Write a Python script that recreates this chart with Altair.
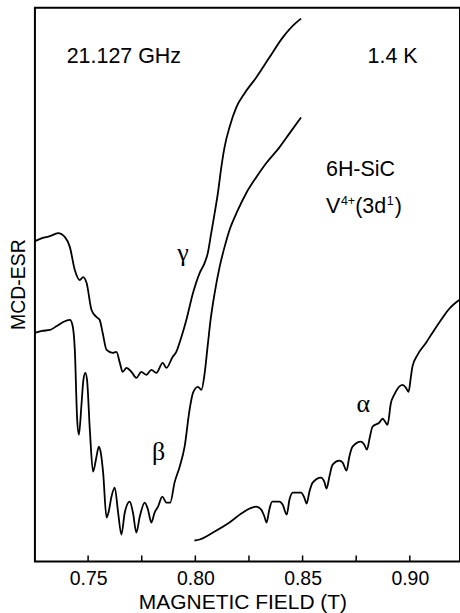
import altair as alt
import pandas as pd

# ---- data (field in T, signal in arbitrary units) ----
gamma_field = [0.7252, 0.7285, 0.7322, 0.7360, 0.7392, 0.7415, 0.7438, 0.7461, 0.7477, 0.7493,
               0.7516, 0.7539, 0.7554, 0.7568, 0.7586, 0.7615, 0.7632, 0.7648, 0.7661, 0.7679,
               0.7702, 0.7725, 0.7748, 0.7772, 0.7795, 0.7818, 0.7848, 0.7865, 0.7894, 0.7911,
               0.7935, 0.7958, 0.7989, 0.8020, 0.8043, 0.8058, 0.8074, 0.8090, 0.8105, 0.8121,
               0.8136, 0.8159, 0.8191, 0.8229, 0.8284, 0.8345, 0.8407, 0.8470, 0.8493]
gamma_signal = [3.21, 3.24, 3.26, 3.29, 3.25, 3.15, 2.92, 2.82, 2.85, 2.79,
                2.52, 2.45, 2.42, 2.29, 2.12, 2.09, 2.10, 1.99, 1.90, 1.94,
                1.90, 1.84, 1.90, 1.87, 1.92, 1.89, 1.99, 1.94, 2.05, 2.10,
                2.25, 2.42, 2.69, 2.89, 2.99, 3.09, 3.29, 3.49, 3.69, 3.95,
                4.15, 4.35, 4.55, 4.69, 4.85, 5.05, 5.25, 5.40, 5.44]

beta_field = [0.7252, 0.7285, 0.7322, 0.7354, 0.7384, 0.7415, 0.7427, 0.7438, 0.7449, 0.7457,
              0.7469, 0.7478, 0.7487, 0.7495, 0.7508, 0.7523, 0.7539, 0.7550, 0.7559, 0.7570,
              0.7586, 0.7596, 0.7609, 0.7624, 0.7640, 0.7655, 0.7671, 0.7694, 0.7709, 0.7725,
              0.7741, 0.7764, 0.7779, 0.7795, 0.7810, 0.7826, 0.7846, 0.7865, 0.7883, 0.7903,
              0.7927, 0.7950, 0.7973, 0.7989, 0.8012, 0.8028, 0.8043, 0.8058, 0.8071, 0.8090,
              0.8113, 0.8136, 0.8159, 0.8198, 0.8237, 0.8284, 0.8330, 0.8392, 0.8439, 0.8493]
beta_signal = [2.29, 2.31, 2.32, 2.36, 2.40, 2.42, 2.37, 2.12, 1.42, 1.27,
               1.57, 1.82, 1.89, 1.82, 1.32, 0.90, 1.05, 1.15, 1.09, 0.89,
               0.44, 0.50, 0.65, 0.74, 0.49, 0.27, 0.49, 0.60, 0.49, 0.29,
               0.45, 0.59, 0.52, 0.39, 0.49, 0.55, 0.65, 0.59, 0.59, 0.79,
               0.95, 1.15, 1.52, 1.69, 1.75, 1.72, 1.88, 2.17, 2.42, 2.69,
               2.95, 3.15, 3.32, 3.52, 3.69, 3.85, 3.99, 4.15, 4.29, 4.45]

alpha_field = [0.7996, 0.8020, 0.8082, 0.8159, 0.8214, 0.8244, 0.8284, 0.8307, 0.8322, 0.8332,
               0.8345, 0.8358, 0.8392, 0.8407, 0.8426, 0.8439, 0.8454, 0.8493, 0.8508, 0.8519,
               0.8532, 0.8547, 0.8586, 0.8601, 0.8612, 0.8625, 0.8640, 0.8671, 0.8687, 0.8705,
               0.8718, 0.8733, 0.8772, 0.8788, 0.8800, 0.8814, 0.8826, 0.8857, 0.8873, 0.8885,
               0.8896, 0.8912, 0.8927, 0.8966, 0.8982, 0.8994, 0.9005, 0.9012, 0.9036, 0.9075,
               0.9105, 0.9152, 0.9183, 0.9230]
alpha_signal = [0.21, 0.22, 0.29, 0.39, 0.48, 0.52, 0.55, 0.52, 0.45, 0.39,
                0.52, 0.60, 0.60, 0.57, 0.47, 0.62, 0.69, 0.69, 0.64, 0.58,
                0.70, 0.79, 0.84, 0.80, 0.73, 0.85, 0.97, 1.01, 0.99, 0.91,
                1.05, 1.15, 1.20, 1.17, 1.12, 1.25, 1.35, 1.39, 1.43, 1.40,
                1.37, 1.59, 1.67, 1.77, 1.74, 1.70, 1.85, 1.95, 2.07, 2.19,
                2.29, 2.44, 2.53, 2.62]

tick_values = [0.75, 0.775, 0.80, 0.825, 0.85, 0.875, 0.90]
label_values = [0.75, 0.80, 0.85, 0.90]

# ---- build table ----
rows = []
for name, fx, sy in [("gamma", gamma_field, gamma_signal),
                     ("beta", beta_field, beta_signal),
                     ("alpha", alpha_field, alpha_signal)]:
    for i, (a, b) in enumerate(zip(fx, sy)):
        rows.append({"curve": name, "idx": i, "field": a, "signal": b})
df = pd.DataFrame(rows)

SANS = "Liberation Sans"
SERIF = "Liberation Serif"
xscale = alt.Scale(domain=[0.7252, 0.9234], nice=False, zero=False)
yscale = alt.Scale(domain=[0, 5.55], nice=False, zero=False)

xaxis = alt.Axis(values=label_values, format=".2f", tickSize=0, domain=False,
                 grid=False, labelFont=SANS, labelFontSize=19.5, labelColor="black",
                 labelPadding=8, title="MAGNETIC FIELD (T)", titleFont=SANS,
                 titleFontSize=21, titleFontWeight="normal", titleColor="black",
                 titleY=47.5, titleBaseline="alphabetic", titleX=208,
                 titleAlign="center")
yaxis = alt.Axis(labels=False, ticks=False, domain=False, grid=False,
                 title="MCD-ESR", titleFont=SANS, titleFontSize=19.5,
                 titleFontWeight="normal", titleColor="black", titleX=-10,
                 titleY=277, titleBaseline="alphabetic", titleAlign="center",
                 titleAngle=270)


def X():
    return alt.X("field:Q", scale=xscale, axis=xaxis, title="MAGNETIC FIELD (T)")


def Y():
    return alt.Y("signal:Q", scale=yscale, axis=yaxis, title="MCD-ESR")


lines = alt.Chart(df).mark_line(color="black", strokeWidth=1.8, clip=True,
                                interpolate="monotone").encode(
    x=X(), y=Y(), detail="curve:N", order="idx:Q")

ticks = alt.Chart(pd.DataFrame({"field": tick_values})).mark_rule(
    color="black", strokeWidth=1.5).encode(
    x=X(), y=alt.value(555), y2=alt.value(549))


def label(text, fx, sy, font=SANS, size=21.5, align="left", baseline="alphabetic",
          dx=0, dy=0):
    d = pd.DataFrame({"field": [fx], "signal": [sy], "t": [text]})
    return alt.Chart(d).mark_text(font=font, fontSize=size, align=align,
                                  baseline=baseline, color="black", dx=dx, dy=dy).encode(
        x=X(), y=Y(), text="t:N")


texts = [
    label("21.127 GHz", 0.7400, 5.00),
    label("1.4 K", 0.8803, 5.00),
    label("6H-SiC", 0.8609, 3.86),
    # V^{4+}(3d^1)
    label("V", 0.8609, 3.49),
    label("4+", 0.8609, 3.49, size=12.5, dx=15, dy=-8),
    label("(3d", 0.8609, 3.49, dx=29.3),
    label("1", 0.8609, 3.49, size=12.5, dx=61, dy=-8),
    label(")", 0.8609, 3.49, dx=69),
    label("\u03b3", 0.7942, 3.01, font=SERIF, size=26, align="center"),
    label("\u03b2", 0.7829, 1.02, font=SERIF, size=26, align="center"),
    label("\u03b1", 0.8783, 1.50, font=SERIF, size=26, align="center"),
]

chart = alt.layer(lines, ticks, *texts).properties(
    width=426, height=555,
    padding={"left": 35, "top": 7, "right": 0, "bottom": 51},
    autosize=alt.AutoSizeParams(type="none"),
    background="white",
).configure_view(stroke="black", strokeWidth=2)

chart.save("out.html", embed_options={"renderer": "svg", "actions": False})
